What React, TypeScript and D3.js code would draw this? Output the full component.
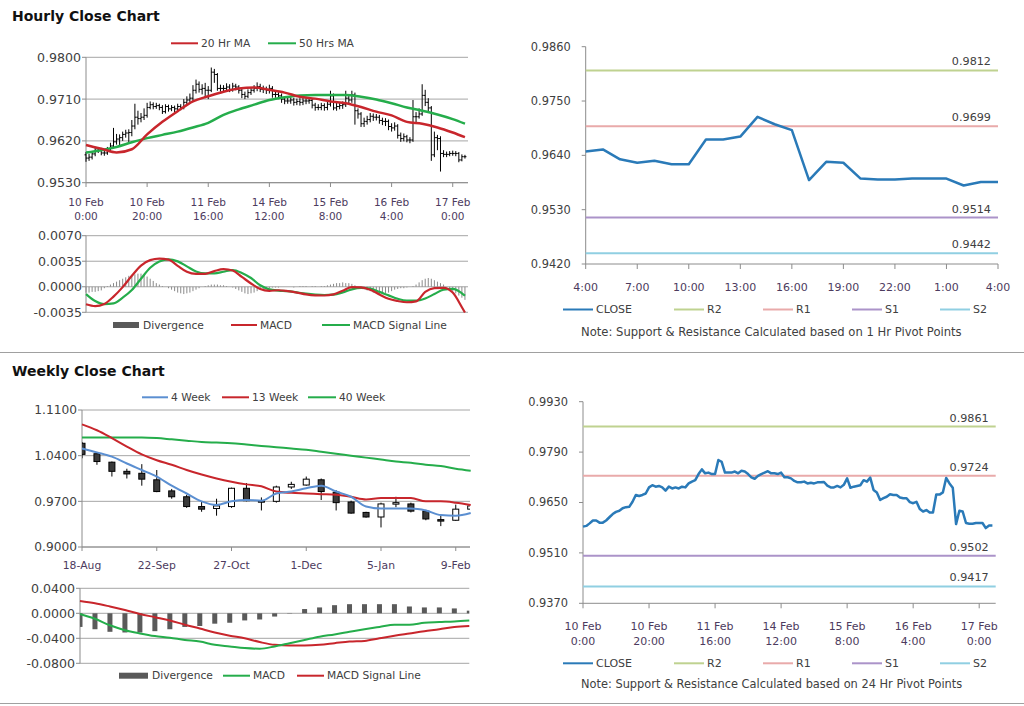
import React from "react";
import * as d3 from "d3";

const FONT = "DejaVu Sans, Verdana, sans-serif";
const GRID = "#a6a6a6";
const AXIS = "#8c8c8c";
const YTXT = "#404040";
const XTXT = "#4d3b5e";
const RED = "#c8262c";
const GREEN = "#25ad4b";
const BLUE = "#5b8fd1";
const CLOSE_BLUE = "#2a7ab8";

// hourly data, 10 Feb 0:00 .. 17 Feb 4:00 (125 trading hours)
const hourlyClose = [
  0.9583, 0.9585, 0.9592, 0.96, 0.96, 0.9594, 0.9594, 0.96, 0.9609, 0.9618,
  0.9624, 0.9627, 0.9634, 0.9637, 0.9638, 0.9652, 0.9671, 0.9668, 0.9671, 0.9675,
  0.9692, 0.9698, 0.9694, 0.9696, 0.9692, 0.9683, 0.9694, 0.9689, 0.9692, 0.9689,
  0.9694, 0.9692, 0.9703, 0.9708, 0.9712, 0.9729, 0.9742, 0.9731, 0.9733, 0.9729,
  0.9729, 0.9768, 0.9763, 0.9733, 0.9733, 0.9733, 0.9736, 0.9731, 0.9738, 0.9736,
  0.9729, 0.972, 0.9716, 0.9724, 0.9729, 0.9733, 0.9737, 0.9731, 0.9731, 0.9729,
  0.9733, 0.972, 0.972, 0.9717, 0.971, 0.9706, 0.9706, 0.9708, 0.9703, 0.9705,
  0.9703, 0.9706, 0.9706, 0.9707, 0.9697, 0.9692, 0.9692, 0.9696, 0.9692, 0.9699,
  0.9717, 0.9691, 0.9694, 0.9696, 0.9698, 0.9712, 0.9708, 0.9719, 0.9685, 0.9678,
  0.9657, 0.9662, 0.9666, 0.9673, 0.9671, 0.9671, 0.9664, 0.9662, 0.9662, 0.9651,
  0.9648, 0.9652, 0.9632, 0.9625, 0.9629, 0.9622, 0.9622, 0.9672, 0.9672, 0.9678,
  0.9718, 0.9703, 0.9691, 0.959, 0.9627, 0.9625, 0.9593, 0.9591, 0.9591, 0.9593,
  0.9593, 0.9593, 0.9579, 0.9586, 0.9586,
];
const hourlyHigh = [
  0.9596, 0.9592, 0.9598, 0.9606, 0.9606, 0.9605, 0.96, 0.9607, 0.9616, 0.9648,
  0.9635, 0.9634, 0.964, 0.9644, 0.9645, 0.9665, 0.97, 0.9685, 0.968, 0.969,
  0.9702, 0.9705, 0.9703, 0.9702, 0.97, 0.9697, 0.9699, 0.9698, 0.9697, 0.9696,
  0.97, 0.9699, 0.971, 0.9716, 0.9722, 0.974, 0.9752, 0.9748, 0.9742, 0.9745,
  0.9738, 0.9778, 0.9775, 0.9766, 0.9741, 0.974, 0.9744, 0.9742, 0.9745, 0.9743,
  0.974, 0.9733, 0.9726, 0.9731, 0.9736, 0.974, 0.9746, 0.9743, 0.9739, 0.9737,
  0.9741, 0.9738, 0.9727, 0.9725, 0.9722, 0.9716, 0.9713, 0.9714, 0.9713, 0.9711,
  0.9712, 0.9713, 0.9712, 0.9714, 0.9712, 0.9702, 0.9699, 0.9702, 0.9701, 0.9706,
  0.9728, 0.9722, 0.9702, 0.9703, 0.9705, 0.9728, 0.972, 0.9728, 0.9724, 0.969,
  0.9682, 0.967, 0.9674, 0.968, 0.9679, 0.9678, 0.9676, 0.967, 0.9669, 0.9666,
  0.9658, 0.966, 0.9656, 0.9638, 0.9636, 0.9633, 0.9628, 0.9708, 0.9682, 0.969,
  0.9742, 0.973, 0.9712, 0.9695, 0.964, 0.9633, 0.963, 0.96, 0.9597, 0.9598,
  0.9599, 0.9598, 0.9596, 0.9591, 0.959,
];
const hourlyLow = [
  0.9575, 0.9577, 0.958, 0.9587, 0.9594, 0.9589, 0.9588, 0.959, 0.9596, 0.9605,
  0.9612, 0.961, 0.962, 0.9627, 0.9615, 0.963, 0.9645, 0.9655, 0.966, 0.9665,
  0.967, 0.9688, 0.9688, 0.9689, 0.9686, 0.9678, 0.9679, 0.9683, 0.9684, 0.9682,
  0.9684, 0.9686, 0.9688, 0.9698, 0.9702, 0.9706, 0.9722, 0.9724, 0.972, 0.9712,
  0.971, 0.9725, 0.9745, 0.9728, 0.9726, 0.9727, 0.9728, 0.9725, 0.9726, 0.9729,
  0.9722, 0.9712, 0.971, 0.9712, 0.9719, 0.9724, 0.9727, 0.9725, 0.9723, 0.9721,
  0.9722, 0.9713, 0.9713, 0.971, 0.9702, 0.9699, 0.97, 0.97, 0.9696, 0.9697,
  0.9696, 0.9697, 0.9699, 0.97, 0.969, 0.9685, 0.9686, 0.9686, 0.9685, 0.9686,
  0.9694, 0.9686, 0.9685, 0.9688, 0.9689, 0.9693, 0.97, 0.9702, 0.9655, 0.9668,
  0.965, 0.965, 0.9655, 0.966, 0.9663, 0.9664, 0.9657, 0.9654, 0.9652, 0.9643,
  0.964, 0.9642, 0.9625, 0.9618, 0.9619, 0.9617, 0.9615, 0.9618, 0.966, 0.9668,
  0.9674, 0.9695, 0.968, 0.9577, 0.9585, 0.96, 0.9554, 0.9585, 0.9585, 0.9587,
  0.9588, 0.9587, 0.9574, 0.9576, 0.9582,
];
const firstOpen = 0.959;

const hourTickIdx = [0, 20, 40, 60, 80, 100, 120];
const hourTickDay = ["10 Feb", "10 Feb", "11 Feb", "14 Feb", "15 Feb", "16 Feb", "17 Feb"];
const hourTickTime = ["0:00", "20:00", "16:00", "12:00", "8:00", "4:00", "0:00"];

// moving averages, read every 5 hours
const maHours = [0, 5, 10, 15, 20, 25, 30, 35, 40, 45, 50, 55, 60, 65, 70, 75, 80, 85, 90, 95, 100, 105, 110, 115, 120, 124];
const ma20 = [
  0.9611, 0.9603, 0.9595, 0.9602, 0.9634, 0.9661, 0.9684, 0.9705, 0.9716, 0.9726, 0.9733, 0.9735, 0.973,
  0.9724, 0.9715, 0.9711, 0.9705, 0.9701, 0.9693, 0.9683, 0.9675, 0.9661, 0.9657, 0.9649, 0.9638, 0.9628,
];
const ma50 = [
  0.9595, 0.96, 0.9607, 0.9617, 0.9626, 0.9633, 0.964, 0.9649, 0.9659, 0.9676, 0.9688, 0.9698, 0.9708,
  0.9714, 0.9718, 0.9719, 0.9719, 0.9719, 0.9715, 0.9709, 0.9701, 0.9692, 0.9685, 0.9677, 0.9667, 0.9657,
];

// hourly MACD, read every 3 hours
const macdHours = [
  0, 3, 6, 9, 12, 15, 18, 21, 24, 27, 30, 33, 36, 39, 42, 45, 48, 51, 54, 57, 60, 63, 66, 69, 72, 75, 78,
  81, 84, 87, 90, 93, 96, 99, 102, 105, 108, 111, 114, 117, 120, 123, 124,
];
const macdH = [
  -0.0024, -0.00265, -0.00235, -0.00135, -0.00005, 0.0015, 0.0029, 0.00365, 0.00385, 0.00372, 0.00287,
  0.00205, 0.00176, 0.00176, 0.00215, 0.00242, 0.00222, 0.00135, 0.00045, -0.0003, -0.00055, -0.00048,
  -0.0006, -0.0008, -0.00105, -0.00118, -0.0012, -0.00105, -0.00055, -0.00005, -0.00008, -0.0004,
  -0.00105, -0.00165, -0.00195, -0.00212, -0.002, -0.0007, -0.00018, -0.00014, -0.0008, -0.0028, -0.00352,
];
const signalH = [
  -0.001, -0.00195, -0.00238, -0.00228, -0.0015, -0.00045, 0.0011, 0.0026, 0.00345, 0.00375, 0.00348,
  0.0028, 0.0021, 0.00183, 0.00183, 0.00206, 0.00229, 0.0019, 0.0012, 0.0002, -0.00035, -0.00052,
  -0.0006, -0.00078, -0.00095, -0.00107, -0.00113, -0.00108, -0.00078, -0.00035, -0.00016, -0.00025,
  -0.0007, -0.00118, -0.00165, -0.0019, -0.0019, -0.0016, -0.001, -0.0004, -0.0003, -0.0009, -0.00123,
];
const divergenceH = [
  -0.0008, -0.0008, -0.0007, -0.0007, -0.0006, -0.0005, -0.0002, 0.0001, 0.0003,
  0.0005, 0.0007, 0.0009, 0.0011, 0.0013, 0.0015, 0.0016, 0.0017, 0.0018, 0.0018, 0.0016, 0.0014,
  0.0011, 0.0008, 0.0005, 0.0003, 0.0001, 0.0,
  -0.0002, -0.0004, -0.0006, -0.0008, -0.0009, -0.001, -0.0009, -0.0008, -0.0006, -0.0004, -0.0002,
  0.0, 0.0001, 0.0002, 0.0003, 0.0003, 0.0003, 0.0002, 0.0002, 0.0001, 0.0, -0.0001,
  -0.0003, -0.0005, -0.0007, -0.0009, -0.001, -0.0009, -0.0008, -0.0006,
  -0.0004, -0.0003, -0.0002, -0.0002, -0.0001, -0.0001, -0.0001, 0.0, 0.0, 0.0,
  0.0, -0.0001, 0.0, 0.0001, 0.0001, 0.0001, 0.0, 0.0001, 0.0001, 0.0, 0.0001, 0.0001, 0.0002,
  0.0003, 0.0004, 0.0005, 0.0005, 0.0006, 0.0005, 0.0005, 0.0004, 0.0002,
  0.0, -0.0001, -0.0003, -0.0005, -0.0006, -0.0008, -0.0009, -0.001, -0.001, -0.0009, -0.0008, -0.0006, -0.0004,
  -0.0003, -0.0002, -0.0002, -0.0001, 0.0, 0.0001, 0.0003,
  0.0006, 0.0009, 0.0011, 0.0012, 0.0011, 0.0009, 0.0007, 0.0005, 0.0003,
  0.0, -0.0003, -0.0006, -0.0009, -0.0012, -0.0015, -0.0018,
];

// pivots
const pivotNames = ["R2", "R1", "S1", "S2"];
const pivotColors = ["#bfd290", "#e9aaaa", "#ab93c9", "#90cfe2"];
const pivot1h = [0.9812, 0.9699, 0.9514, 0.9442];
const pivot24h = [0.9861, 0.9724, 0.9502, 0.9417];
const lastDayStart = 100; // 16 Feb 4:00
const dayTickLabels = ["4:00", "7:00", "10:00", "13:00", "16:00", "19:00", "22:00", "1:00", "4:00"];

// weekly data, 18-Aug .. 16-Feb
const weekTickIdx = [0, 5, 10, 15, 20, 25];
const weekTickLabels = ["18-Aug", "22-Sep", "27-Oct", "1-Dec", "5-Jan", "9-Feb"];
const weekOpen = [
  1.059, 1.043, 1.03, 1.016, 1.013, 1.003, 0.986, 0.977, 0.962, 0.959, 0.962, 0.99, 0.971, 0.97,
  0.992, 0.995, 1.003, 0.984, 0.969, 0.953, 0.946, 0.966, 0.966, 0.955, 0.942, 0.941, 0.958,
];
const weekHigh = [
  1.061, 1.044, 1.031, 1.02, 1.027, 1.018, 0.989, 0.98, 0.97, 0.974, 0.991, 0.998, 0.976, 0.994,
  1.0, 1.008, 1.005, 0.987, 0.971, 0.954, 0.968, 0.977, 0.968, 0.957, 0.948, 0.965, 0.964,
];
const weekLow = [
  1.036, 1.026, 1.008, 1.005, 0.994, 0.984, 0.974, 0.96, 0.954, 0.948, 0.96, 0.97, 0.956, 0.968,
  0.989, 0.994, 0.972, 0.956, 0.951, 0.945, 0.93, 0.961, 0.953, 0.941, 0.932, 0.94, 0.957,
];
const weekClose = [
  1.042, 1.031, 1.016, 1.012, 1.004, 0.985, 0.977, 0.962, 0.958, 0.963, 0.99, 0.971, 0.97, 0.992,
  0.996, 1.004, 0.985, 0.968, 0.952, 0.946, 0.966, 0.968, 0.955, 0.943, 0.941, 0.958, 0.963,
];
const ma4w = [
  1.051, 1.045, 1.0385, 1.028, 1.018, 1.008, 0.994, 0.982, 0.97, 0.9645, 0.97, 0.972, 0.971, 0.982,
  0.985, 0.99, 0.994, 0.985, 0.977, 0.962, 0.959, 0.959, 0.959, 0.956, 0.949, 0.948, 0.952,
];
const ma13w = [
  1.088, 1.079, 1.067, 1.054, 1.042, 1.033, 1.026, 1.018, 1.011, 1.005, 1.0, 0.996, 0.993, 0.985,
  0.983, 0.982, 0.981, 0.98, 0.977, 0.973, 0.975, 0.975, 0.975, 0.97, 0.97, 0.968, 0.9645,
];
const ma40w = [
  1.068, 1.068, 1.068, 1.068, 1.068, 1.067, 1.065, 1.063, 1.061, 1.06, 1.059, 1.057, 1.055, 1.053,
  1.051, 1.049, 1.046, 1.043, 1.04, 1.037, 1.034, 1.031, 1.029, 1.026, 1.024, 1.02, 1.017,
];
const weekMacd = [
  -0.001, -0.0088, -0.0192, -0.027, -0.0322, -0.0364, -0.039, -0.0426, -0.0452, -0.0504, -0.053,
  -0.0556, -0.0566, -0.053, -0.0478, -0.0426, -0.0374, -0.0338, -0.0296, -0.0255, -0.0218, -0.0182,
  -0.0182, -0.0151, -0.014, -0.013, -0.0114,
];
const weekSignal = [
  0.0197, 0.0161, 0.0109, 0.0052, -0.001, -0.0062, -0.0114, -0.0182, -0.0244, -0.0307, -0.0358,
  -0.04, -0.046, -0.0504, -0.0514, -0.0514, -0.0504, -0.0478, -0.0452, -0.0442, -0.04, -0.0358,
  -0.0322, -0.0286, -0.0255, -0.0218, -0.0203,
];
const weekDivergence = [
  -0.0218, -0.0255, -0.0296, -0.0307, -0.0307, -0.0286, -0.0255, -0.0218, -0.0203, -0.0166, -0.0151,
  -0.0114, -0.0099, -0.0052, 0.0005, 0.0068, 0.0094, 0.013, 0.0146, 0.0146, 0.0146, 0.0146, 0.0109,
  0.0094, 0.0094, 0.0078, 0.0042,
];

const fmt4 = (v: number) => (v < -1e-9 ? "-" : "") + Math.abs(v).toFixed(4);

function YAxis({ scale, ticks, x, x2, grid, size, gap }: any) {
  return (
    <g>
      {ticks.map((t: number) => (
        <g key={t}>
          {grid && <line x1={x} x2={x2} y1={scale(t)} y2={scale(t)} stroke={GRID} />}
          <line x1={x - 4} x2={x} y1={scale(t)} y2={scale(t)} stroke={AXIS} />
          <text x={x - gap} y={scale(t)} dy="0.35em" textAnchor="end" fontSize={size} fill={YTXT}>
            {fmt4(t)}
          </text>
        </g>
      ))}
      <line x1={x} x2={x} y1={scale(ticks[ticks.length - 1])} y2={scale(ticks[0])} stroke={AXIS} />
    </g>
  );
}

function LegendLine({ x1, x2, y, color, label, size = 10.7 }: any) {
  return (
    <g>
      <line x1={x1} x2={x2} y1={y} y2={y} stroke={color} strokeWidth={2} />
      <text x={x2 + 3} y={y} dy="0.35em" fontSize={size} fill={YTXT}>
        {label}
      </text>
    </g>
  );
}

function LegendBox({ x1, x2, y, label }: any) {
  return (
    <g>
      <rect x={x1} y={y - 3} width={x2 - x1} height={6} fill="#595959" />
      <text x={x2 + 4} y={y} dy="0.35em" fontSize={10.7} fill={YTXT}>
        {label}
      </text>
    </g>
  );
}

function PivotChart({ x0, x1, y0, y1, domain, yTicks, closes, pivots, xScale, xTicks, xLabels, note, noteSize, legendY, noteY }: any) {
  const y = d3.scaleLinear().domain(domain).range([y1, y0]);
  const path = d3
    .line<number>()
    .x((_, i) => xScale(i))
    .y((d) => y(d))(closes);
  return (
    <g>
      <YAxis scale={y} ticks={yTicks} x={x0} x2={x1} grid={false} size={11.4} gap={15} />
      <line x1={x0} x2={x1} y1={y1} y2={y1} stroke={AXIS} />
      {xTicks.map((t: number) => (
        <line key={t} x1={xScale(t)} x2={xScale(t)} y1={y1} y2={y1 + 5} stroke={AXIS} />
      ))}
      {pivots.map((p: number, i: number) => (
        <g key={i}>
          <line x1={x0} x2={x1} y1={y(p)} y2={y(p)} stroke={pivotColors[i]} strokeWidth={2} />
          <text x={x1 - 7} y={y(p) - 5} textAnchor="end" fontSize={11.2} fill={YTXT}>
            {p.toFixed(4)}
          </text>
        </g>
      ))}
      <path d={path ?? undefined} fill="none" stroke={CLOSE_BLUE} strokeWidth={2.5} strokeLinejoin="round" />
      {xLabels}
      <LegendLine x1={563} x2={593} y={legendY} color={CLOSE_BLUE} label="CLOSE" size={11} />
      {pivotNames.map((n, i) => (
        <LegendLine key={n} x1={[674, 763, 852, 940][i]} x2={[704, 793, 882, 970][i]} y={legendY} color={pivotColors[i]} label={n} size={11} />
      ))}
      <text x={581} y={noteY} dy="0.35em" fontSize={noteSize} fill={YTXT}>
        {note}
      </text>
    </g>
  );
}

export default function App() {
  // ---- hourly OHLC chart
  const xH = d3.scaleLinear().domain([0, 125]).range([86, 468]);
  const yH = d3.scaleLinear().domain([0.953, 0.98]).range([182.7, 57.3]);
  const yM = d3.scaleLinear().domain([-0.0035, 0.007]).range([312.3, 235.7]);

  const maLine = (vals: number[]) =>
    d3
      .line<number>()
      .x((_, j) => xH(maHours[j]))
      .y((d) => yH(d))
      .curve(d3.curveMonotoneX)(vals) ?? undefined;
  const macdLine = (vals: number[]) =>
    d3
      .line<number>()
      .x((_, j) => xH(macdHours[j]))
      .y((d) => yM(d))
      .curve(d3.curveMonotoneX)(vals) ?? undefined;

  // ---- right charts
  const xD = d3.scaleLinear().domain([0, 24]).range([585.7, 998]);
  const xB = d3.scaleLinear().domain([0, 125]).range([583, 995.7]);

  // ---- weekly chart
  const xK = d3.scaleLinear().domain([0, 26]).range([82, 470.7]);
  const yK = d3.scaleLinear().domain([0.9, 1.11]).range([547, 410]);
  const xKM = d3.scaleLinear().domain([0, 26]).range([80, 469.3]);
  const yKM = d3.scaleLinear().domain([-0.08, 0.04]).range([663.3, 588.3]);
  const wLine = (vals: number[]) =>
    d3
      .line<number>()
      .x((_, i) => xK(i))
      .y((d) => yK(d))
      .curve(d3.curveMonotoneX)(vals) ?? undefined;
  const wmLine = (vals: number[]) =>
    d3
      .line<number>()
      .x((_, i) => xKM(i))
      .y((d) => yKM(d))
      .curve(d3.curveMonotoneX)(vals) ?? undefined;

  return (
    <svg
      width={1024}
      height={706}
      fontFamily={FONT}
      style={{ position: "absolute", left: 0, top: 0, background: "#fff" }}
    >
      <defs>
        <clipPath id="wclip">
          <rect x={82} y={400} width={388} height={150} />
        </clipPath>
        <clipPath id="wmclip">
          <rect x={80} y={580} width={389.3} height={90} />
        </clipPath>
      </defs>

      {/* titles and separators */}
      <text x={12} y={21} fontSize={14} fontWeight="bold" fill="#111">Hourly Close Chart</text>
      <text x={12} y={375.5} fontSize={14} fontWeight="bold" fill="#111">Weekly Close Chart</text>
      <line x1={0} x2={1024} y1={352.5} y2={352.5} stroke="#a0a0a0" strokeWidth={1.2} />
      <line x1={0} x2={1024} y1={703.5} y2={703.5} stroke="#a0a0a0" strokeWidth={1.2} />

      {/* ---- hourly price */}
      <LegendLine x1={171} x2={198} y={43.3} color={RED} label="20 Hr MA" />
      <LegendLine x1={268} x2={296} y={43.3} color={GREEN} label="50 Hrs MA" />
      <YAxis scale={yH} ticks={[0.953, 0.962, 0.971, 0.98]} x={86} x2={468} grid size={12.6} gap={5} />
      <line x1={86} x2={468} y1={yH(0.953)} y2={yH(0.953)} stroke={AXIS} />
      {hourTickIdx.map((t, i) => (
        <g key={t}>
          <line x1={xH(t)} x2={xH(t)} y1={182.7} y2={187} stroke={AXIS} />
          <text x={xH(t)} y={202.3} dy="0.35em" textAnchor="middle" fontSize={10.5} fill={XTXT}>
            {hourTickDay[i]}
          </text>
          <text x={xH(t)} y={216.7} dy="0.35em" textAnchor="middle" fontSize={10.5} fill={XTXT}>
            {hourTickTime[i]}
          </text>
        </g>
      ))}
      {hourlyClose.map((c, i) => {
        const o = i === 0 ? firstOpen : hourlyClose[i - 1];
        const x = xH(i);
        return (
          <path
            key={i}
            d={`M${x},${yH(hourlyHigh[i])}V${yH(hourlyLow[i])}M${x - 1.5},${yH(o)}H${x}M${x},${yH(c)}H${x + 1.5}`}
            stroke="#000"
            strokeWidth={1}
            fill="none"
          />
        );
      })}
      <path d={maLine(ma50)} fill="none" stroke={GREEN} strokeWidth={2.5} />
      <path d={maLine(ma20)} fill="none" stroke={RED} strokeWidth={2.5} />

      {/* ---- hourly MACD */}
      <YAxis scale={yM} ticks={[-0.0035, 0, 0.0035, 0.007]} x={86} x2={468} grid size={12.6} gap={4} />
      {divergenceH.map((v, i) => (
        <line key={i} x1={xH(i)} x2={xH(i)} y1={yM(0)} y2={yM(v)} stroke="#8a8a8a" strokeWidth={1} />
      ))}
      <path d={macdLine(signalH)} fill="none" stroke={GREEN} strokeWidth={2.2} />
      <path d={macdLine(macdH)} fill="none" stroke={RED} strokeWidth={2.2} />
      <LegendBox x1={113} x2={139} y={325} label="Divergence" />
      <LegendLine x1={231} x2={257} y={325} color={RED} label="MACD" />
      <LegendLine x1={322} x2={350} y={325} color={GREEN} label="MACD Signal Line" />

      {/* ---- last 24 hours with 1 hr pivots */}
      <PivotChart
        x0={585.7}
        x1={998}
        y0={46.7}
        y1={264}
        domain={[0.942, 0.986]}
        yTicks={[0.942, 0.953, 0.964, 0.975, 0.986]}
        closes={hourlyClose.slice(lastDayStart)}
        pivots={pivot1h}
        xScale={xD}
        xTicks={dayTickLabels.map((_, i) => i * 3)}
        xLabels={dayTickLabels.map((l, i) => (
          <text key={i} x={xD(i * 3)} y={286.7} dy="0.35em" textAnchor="middle" fontSize={11} fill={XTXT}>
            {l}
          </text>
        ))}
        note="Note: Support & Resistance Calculated based on 1 Hr Pivot Points"
        noteSize={11.6}
        legendY={309.5}
        noteY={331.5}
      />

      {/* ---- full week with 24 hr pivots */}
      <PivotChart
        x0={583}
        x1={995.7}
        y0={401.7}
        y1={603.3}
        domain={[0.937, 0.993]}
        yTicks={[0.937, 0.951, 0.965, 0.979, 0.993]}
        closes={hourlyClose}
        pivots={pivot24h}
        xScale={xB}
        xTicks={hourTickIdx}
        xLabels={hourTickIdx.map((t, i) => (
          <g key={t}>
            <text x={xB(t)} y={626} dy="0.35em" textAnchor="middle" fontSize={11} fill={XTXT}>
              {hourTickDay[i]}
            </text>
            <text x={xB(t)} y={640.7} dy="0.35em" textAnchor="middle" fontSize={11} fill={XTXT}>
              {hourTickTime[i]}
            </text>
          </g>
        ))}
        note="Note: Support & Resistance Calculated based on 24 Hr Pivot Points"
        noteSize={11.4}
        legendY={663.3}
        noteY={684}
      />

      {/* ---- weekly price */}
      <LegendLine x1={142} x2={168} y={397.3} color={BLUE} label="4 Week" />
      <LegendLine x1={222} x2={249} y={397.3} color={RED} label="13 Week" />
      <LegendLine x1={308} x2={336} y={397.3} color={GREEN} label="40 Week" />
      <YAxis scale={yK} ticks={[0.9, 0.97, 1.04, 1.11]} x={82} x2={470} grid size={12.2} gap={5} />
      <line x1={82} x2={470} y1={547} y2={547} stroke={AXIS} />
      {weekTickIdx.map((t, i) => (
        <g key={t}>
          <line x1={xK(t)} x2={xK(t)} y1={547} y2={551} stroke={AXIS} />
          <text x={xK(t)} y={565.7} dy="0.35em" textAnchor="middle" fontSize={10.8} fill={XTXT}>
            {weekTickLabels[i]}
          </text>
        </g>
      ))}
      <g clipPath="url(#wclip)">
        {weekClose.map((c, i) => {
          const o = weekOpen[i];
          const x = xK(i);
          const top = yK(Math.max(o, c));
          const h = Math.max(1.5, yK(Math.min(o, c)) - top);
          return (
            <g key={i}>
              <line x1={x} x2={x} y1={yK(weekHigh[i])} y2={yK(weekLow[i])} stroke="#000" />
              <rect x={x - 3} y={top} width={6} height={h} fill={c >= o ? "#fff" : "#3a3a3a"} stroke="#000" strokeWidth={1} />
            </g>
          );
        })}
      </g>
      <path d={wLine(ma40w)} fill="none" stroke={GREEN} strokeWidth={2} />
      <path d={wLine(ma13w)} fill="none" stroke={RED} strokeWidth={2} />
      <path d={wLine(ma4w)} fill="none" stroke={BLUE} strokeWidth={2} />

      {/* ---- weekly MACD */}
      <YAxis scale={yKM} ticks={[-0.08, -0.04, 0, 0.04]} x={80} x2={469.3} grid size={12.6} gap={5} />
      <g clipPath="url(#wmclip)">
        {weekDivergence.map((v, i) => (
          <rect
            key={i}
            x={xKM(i) - 2.5}
            y={Math.min(yKM(0), yKM(v))}
            width={5}
            height={Math.abs(yKM(v) - yKM(0))}
            fill="#5a5a5a"
          />
        ))}
      </g>
      <path d={wmLine(weekSignal)} fill="none" stroke={RED} strokeWidth={2} />
      <path d={wmLine(weekMacd)} fill="none" stroke={GREEN} strokeWidth={2} />
      <LegendBox x1={119} x2={148} y={675.7} label="Divergence" />
      <LegendLine x1={223} x2={250} y={675.7} color={GREEN} label="MACD" />
      <LegendLine x1={297} x2={324} y={675.7} color={RED} label="MACD Signal Line" />
    </svg>
  );
}
